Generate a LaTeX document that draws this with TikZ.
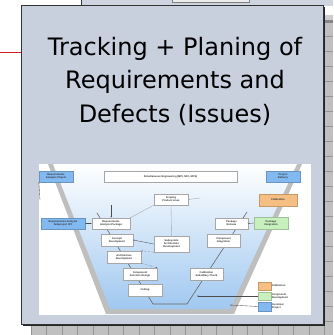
\documentclass[tikz,border=0pt]{standalone}
\usepackage{fontspec}
\setmainfont{Liberation Sans}
\newfontfamily\titlefont{DejaVu Sans}
\usetikzlibrary{arrows.meta}
\definecolor{panel}{RGB}{200,208,222}
\definecolor{gridgray}{RGB}{192,192,192}
\definecolor{gridline}{RGB}{150,150,150}
\definecolor{vband}{RGB}{190,190,190}
\definecolor{vblue}{RGB}{160,200,240}
\definecolor{boxblue}{RGB}{130,185,240}
\definecolor{boxorange}{RGB}{245,190,130}
\definecolor{boxgreen}{RGB}{200,240,190}
\definecolor{redline}{RGB}{210,30,40}
\tikzset{
  mini/.style={draw=gray!70, line width=0.3pt, inner sep=0pt, align=center, font=\fontsize{2.6}{2.9}\selectfont\bfseries, text=black!80},
  miniw/.style={mini, fill=white},
  minib/.style={mini, fill=boxblue, draw=boxblue!80!black},
  minio/.style={mini, fill=boxorange, draw=boxorange!80!black},
  minig/.style={mini, fill=boxgreen, draw=boxgreen!80!black},
  miniarr/.style={-{Latex[length=1.3pt,width=1.2pt]}, line width=0.35pt, gray!60!black},
  legtext/.style={anchor=west, align=left, font=\fontsize{2.6}{2.9}\selectfont\bfseries, text=black!80, inner sep=0.5pt},
}
\begin{document}
\begin{tikzpicture}[x=1pt,y=-1pt]
\useasboundingbox (0,0) rectangle (333,335);
% background elements
\fill[white] (0,0) rectangle (333,335);
\fill[panel!90!white] (81,0) rectangle (333,6);
\draw[black!80, line width=0.6pt] (81,0) -- (81,6);
\draw[gray, fill=gray!15, line width=0.5pt] (172,-1) rectangle (249,2);
% right grid
\fill[gridgray!80!white] (324,15) rectangle (333,21);
\fill[gridgray!70!black] (324,20) rectangle (333,23);
\fill[gridgray] (324,23) rectangle (333,335);
\foreach \yy in {36,51,66,81,96,111,126,141,156,171,186,201,216,231,246,261,276,291,306,321}
  \draw[gridline, line width=0.5pt] (324,\yy) -- (333,\yy);
% bottom grid
\fill[gridgray] (31,324) rectangle (333,335);
\foreach \i in {0,...,19}
  \draw[gridline, line width=0.6pt] ({31+15.45*\i},324) -- ({31+15.45*\i},335);
% red connector
\coordinate (redstart) at (0,52);
% main panel
\fill[black!85] (23,7) rectangle (325,326);
\node[draw=black!80, line width=0.8pt, fill=panel, minimum width=302pt, minimum height=319pt, inner sep=0pt, anchor=north west] (panel) at (21,5) {};
\draw[redline, line width=0.7pt] (redstart) -- (panel.west |- redstart);
% title
\node[align=center, font=\titlefont\fontsize{24}{33.5}\selectfont, text=black] (title) at (175,81) {Tracking + Planing of\\Requirements and\\Defects (Issues)};
% image
\node[fill=white, minimum width=272pt, minimum height=151pt, inner sep=0pt, anchor=north west] (img) at (39,164) {};
\begin{scope}
\clip (39,164) rectangle (311,315);
\fill[vband] (48,164) -- (106,314) -- (234,314) -- (302,164) -- cycle;
\shade[top color=white, bottom color=vblue] (53,164) -- (110,309) -- (230,309) -- (297,164) -- cycle;
\draw[black!60, line width=0.6pt] (97,213) -- (153,304) -- (187,304) -- (247,212);
\end{scope}
% small boxes
\node[minib, minimum width=34pt, minimum height=11pt] (rap) at (56,176.5) {Requirements\\Analysis Project};
\node[miniw, minimum width=133pt, minimum height=11pt] (se) at (170.5,176.5) {Simultaneous Engineering (MPI, MCI, MCS)};
\node[minib, minimum width=34pt, minimum height=11pt] (pd) at (283,176.5) {Project\\Delivery};
\node[miniw, minimum width=34pt, minimum height=11pt] (spl) at (171,199.5) {Scoping\\Product Lines};
\node[minio, minimum width=38pt, minimum height=12pt] (cal) at (278,200) {Calibration};
\node[minib, minimum width=44pt, minimum height=11pt] (ras) at (63,223.5) {Requirements Analysis\\Subproject ISY};
\node[miniw, minimum width=38pt, minimum height=11pt] (rapk) at (111,223.5) {Requirements\\Analysis Package};
\node[miniw, minimum width=33pt, minimum height=11pt] (pr) at (231.5,223.5) {Package\\Release};
\node[minig, minimum width=34pt, minimum height=12pt] (pi) at (271,223) {Package\\Integration};
\node[miniw, minimum width=32pt, minimum height=12pt] (cd) at (117,240) {Concept\\Development};
\node[miniw, minimum width=35pt, minimum height=16pt] (sad) at (171.5,244) {Subsystem\\Architecture\\Development};
\node[miniw, minimum width=33pt, minimum height=13pt] (ci) at (223.5,240.5) {Component\\Integration};
\node[miniw, minimum width=34pt, minimum height=12pt] (ad) at (124,257) {Architecture\\Development};
\node[miniw, minimum width=34pt, minimum height=12pt] (cfd) at (140,274) {Component\\Function Design};
\node[miniw, minimum width=33pt, minimum height=12pt] (csc) at (206.5,274) {Calibration\\Subsidiary Check};
\node[miniw, minimum width=34pt, minimum height=12pt] (cod) at (145,290) {Coding};
% legend
\node[minio, minimum width=13pt, minimum height=8pt] (lo) at (264.5,286) {};
\node[minig, minimum width=13pt, minimum height=8pt] (lg) at (264.5,296) {};
\node[minib, minimum width=13pt, minimum height=9pt] (lb) at (264.5,306.5) {};
\node[legtext] (lot) at (lo.east) {Calibration};
\node[legtext] (lgt) at (lg.east) {Component\\Development};
\node[legtext] (lbt) at (lb.east) {Customer\\Project};
\coordinate (vin) at (197,296);
\coordinate (vout) at (230,305);
\draw[miniarr] (lg.west) -- (vin);
\draw[miniarr] (lb.west) -- (vout);
% arrows
\coordinate (ltop) at (40,200);
\draw[miniarr] (ltop) -- (rap.south west);
\coordinate (abv) at (111,205);
\draw[miniarr] (abv) -- (rapk.north);
\coordinate (rt) at (200,198);
\draw[miniarr, gray!70] (rt) -- (spl.east);
\draw[miniarr, gray!70] (spl.south west) -- (rapk.north east);
\draw[miniarr, gray!70] (spl.south) -- (sad.north);
\draw[miniarr, {Latex[length=1.3pt,width=1.2pt]}-{Latex[length=1.3pt,width=1.2pt]}] (ras.east) -- (rapk.west);
\draw[miniarr] (sad.west) -- (cd.east);
\draw[miniarr, densely dotted] (sad.south west) -- (ad.north east);
\draw[miniarr, densely dotted] (ad.south east) -- (cfd.north east);
\draw[miniarr] (pi.west) -- (pr.east);
\end{tikzpicture}
\end{document}
